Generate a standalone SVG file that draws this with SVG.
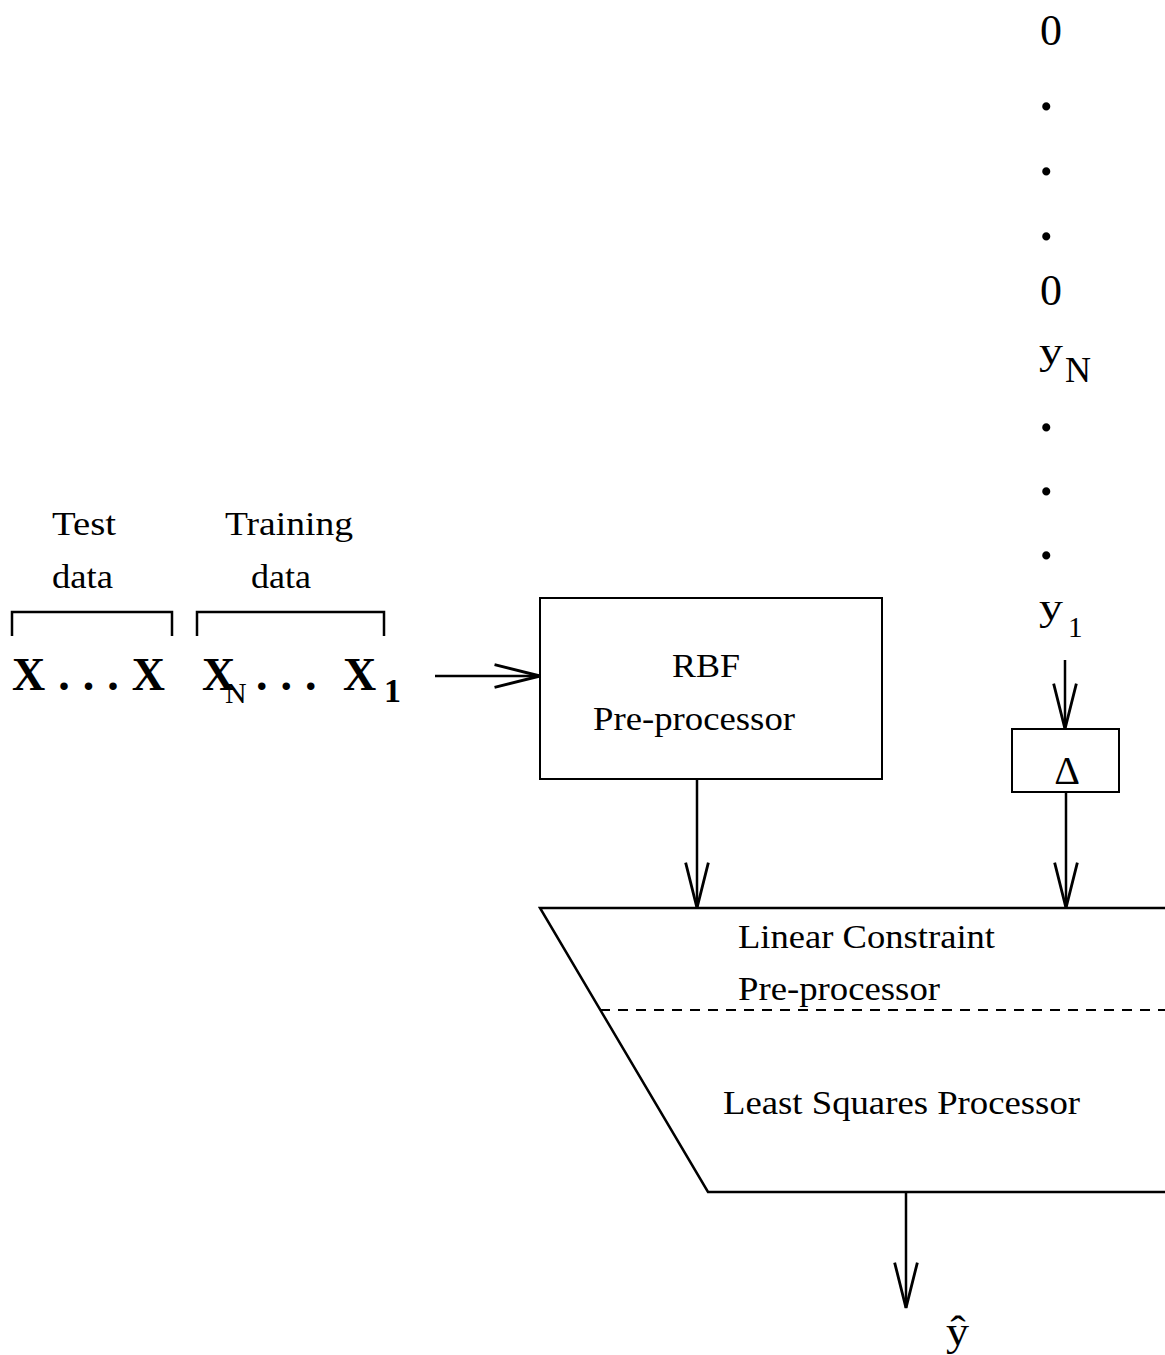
<svg xmlns="http://www.w3.org/2000/svg" width="1165" height="1355" viewBox="0 0 1165 1355">
<style>
text{font-family:"Liberation Serif","Times New Roman",serif;fill:#000}
.lbl{font-size:33px}
.big{font-size:44px}
.dot{font-size:50px;font-weight:bold}
.bx{font-size:46px;font-weight:bold}
.yv{font-size:37px}
.ln{stroke:#000;stroke-width:2.5;fill:none}
.box{stroke:#000;stroke-width:2;fill:#fff}
</style>
<defs>
<marker id="ah" markerUnits="userSpaceOnUse" markerWidth="50" markerHeight="30" viewBox="-42 -13 44 26" refX="0" refY="0" orient="auto">
<path d="M-40,-10 L0,0 L-40,10" fill="none" stroke="#000" stroke-width="2.5"/>
</marker>
</defs>
<rect width="1165" height="1355" fill="#fff"/>

<g id="inputs">
<text class="lbl" x="52" y="535" textLength="64" lengthAdjust="spacingAndGlyphs">Test</text>
<text class="lbl" x="52" y="588" textLength="61" lengthAdjust="spacingAndGlyphs">data</text>
<text class="lbl" x="225" y="535" textLength="128" lengthAdjust="spacingAndGlyphs">Training</text>
<text class="lbl" x="251" y="588" textLength="60" lengthAdjust="spacingAndGlyphs">data</text>
<path class="ln" d="M12,636 V612 H172 V636" stroke-width="2"/>
<path class="ln" d="M197,636 V612 H384 V636" stroke-width="2"/>
<text class="bx" x="12" y="690" textLength="153" lengthAdjust="spacing">X...X</text>
<text class="bx" y="690"><tspan x="202">X</tspan><tspan x="225" y="703" style="font-weight:normal;font-size:30px">N</tspan><tspan x="256" y="690" letter-spacing="13">...</tspan><tspan x="343" y="690">X</tspan><tspan x="384" y="702" style="font-size:34px">1</tspan></text>
</g>

<g id="targets">
<text class="big" x="1040" y="45">0</text>
<text class="dot" x="1040" y="110">.</text>
<text class="dot" x="1040" y="175">.</text>
<text class="dot" x="1040" y="240">.</text>
<text class="big" x="1040" y="305">0</text>
<text class="yv" x="1039" y="364" textLength="24" lengthAdjust="spacingAndGlyphs">y</text>
<text x="1065" y="382" font-size="36">N</text>
<text class="dot" x="1040" y="431">.</text>
<text class="dot" x="1040" y="495">.</text>
<text class="dot" x="1040" y="559">.</text>
<text class="yv" x="1039" y="620" textLength="24" lengthAdjust="spacingAndGlyphs">y</text>
<text x="1068" y="637" font-size="29">1</text>
</g>

<g id="rbf">
<rect class="box" x="540" y="598" width="342" height="181"/>
<text class="lbl" x="672" y="677" textLength="68" lengthAdjust="spacingAndGlyphs">RBF</text>
<text class="lbl" x="593" y="730" textLength="202" lengthAdjust="spacingAndGlyphs">Pre-processor</text>
</g>

<g id="delta">
<rect class="box" x="1012" y="729" width="107" height="63"/>
<text x="1067" y="784" font-size="40" text-anchor="middle">Δ</text>
</g>

<g id="processor">
<path class="ln" d="M1165,908 H540 L708,1192 H1165" stroke-width="2"/>
<line x1="600" y1="1010" x2="1165" y2="1010" stroke="#000" stroke-width="2" stroke-dasharray="10,8"/>
<text class="lbl" x="738" y="948" textLength="257" lengthAdjust="spacingAndGlyphs">Linear Constraint</text>
<text class="lbl" x="738" y="1000" textLength="202" lengthAdjust="spacingAndGlyphs">Pre-processor</text>
<text class="lbl" x="723" y="1114" textLength="357" lengthAdjust="spacingAndGlyphs">Least Squares Processor</text>
</g>

<g id="output">
<text x="946" y="1345" font-size="42" textLength="23" lengthAdjust="spacingAndGlyphs">ŷ</text>
</g>

<g id="connectors">
<line class="ln" x1="435" y1="676" x2="540" y2="676" marker-end="url(#ah)"/>
<line class="ln" x1="697" y1="779" x2="697" y2="908" marker-end="url(#ah)"/>
<line class="ln" x1="1065" y1="660" x2="1065" y2="729" marker-end="url(#ah)"/>
<line class="ln" x1="1066" y1="792" x2="1066" y2="908" marker-end="url(#ah)"/>
<line class="ln" x1="906" y1="1192" x2="906" y2="1308" marker-end="url(#ah)"/>
</g>
</svg>
